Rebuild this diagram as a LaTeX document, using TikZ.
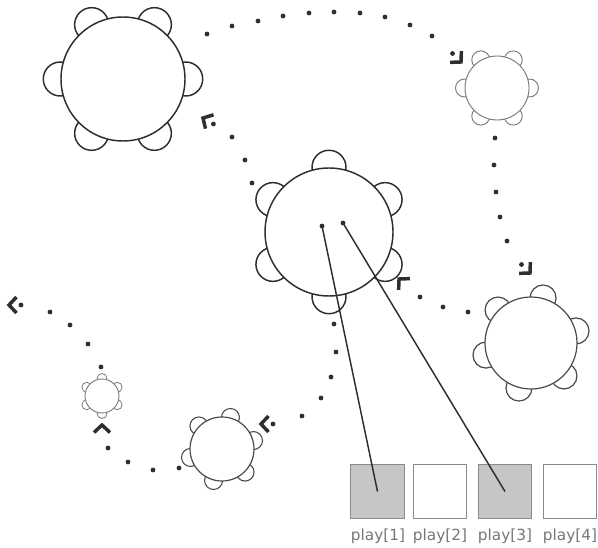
\documentclass[tikz,border=0pt]{standalone}
\usepackage{fontspec}
\newfontfamily\labfont{DejaVu Sans}
\usetikzlibrary{backgrounds}
\definecolor{ink}{HTML}{2E2E2E}
\definecolor{midink}{HTML}{4A4A4A}
\definecolor{lightink}{HTML}{7A7A7A}
\definecolor{boxgray}{HTML}{C6C6C6}
\definecolor{boxline}{HTML}{8A8A8A}
\definecolor{labgray}{HTML}{767676}
\newcommand\chairs[5]{% node, chair radius (px), offset angle, colour, line width
  \begin{pgfonlayer}{background}
    \foreach \a [evaluate=\a as \b using int(\a+#3)] in {0,60,...,300}
      {\draw[draw=#4, line width=#5, fill=white] (#1.\b) circle[radius=#2];}
  \end{pgfonlayer}}
\newcommand\pathdot[2]{\fill[ink] (#1,#2) circle[radius=2.4];}
\newcommand\routemark[4]{% x, y, direction, dot (1/0)
  \begin{scope}[shift={(#1,#2)},rotate=#3]
    \draw[ink, line width=2.6pt, line join=miter] (-7.5,-8) -- (0,0) -- (-7.5,8);
    \ifnum#4=1 \fill[ink] (-12,0) circle[radius=2.4];\fi
  \end{scope}}
\begin{document}
\begin{tikzpicture}[x=0.75pt,y=-0.75pt,
  tablebig/.style={circle, draw=ink, line width=1.1pt, fill=white, inner sep=0pt},
  tablemid/.style={circle, draw=midink, line width=0.9pt, fill=white, inner sep=0pt},
  tablelight/.style={circle, draw=lightink, line width=0.7pt, fill=white, inner sep=0pt},
  slot/.style={rectangle, draw=boxline, line width=0.8pt, minimum width=40pt, minimum height=40pt, inner sep=0pt},
  slotlab/.style={text=labgray, font=\labfont\fontsize{11.5}{13}\selectfont, inner sep=0pt},
  link/.style={draw=ink, line width=1.1pt}]
\useasboundingbox (0,0) rectangle (598,548);

% tables
\node[tablebig, minimum size=93pt] (t1) at (123,79) {};
\chairs{t1}{17}{0}{ink}{1.1pt}
\node[tablelight, minimum size=48pt] (t2) at (497,88) {};
\chairs{t2}{9}{0}{lightink}{0.7pt}
\node[tablebig, minimum size=96pt] (t3) at (329,232) {};
\chairs{t3}{17}{30}{ink}{1.1pt}
\node[tablemid, minimum size=69pt] (t4) at (531,343) {};
\chairs{t4}{13}{15}{midink}{0.9pt}
\node[tablelight, minimum size=25.5pt] (t5) at (102,396) {};
\chairs{t5}{5}{30}{lightink}{0.6pt}
\node[tablemid, minimum size=48pt] (t6) at (222,449) {};
\chairs{t6}{9}{15}{midink}{0.8pt}

% dotted route t1 -> t2
\foreach \x/\y in {207/34,232/26,258/21,283/16,309/13,334/12,360/13,385/17,410/25,432/36}
  {\pathdot{\x}{\y}}
\routemark{461}{62}{-45}{1}
% t2 -> t4
\foreach \x/\y in {495/138,494/165,496/192,500/217,507/241}
  {\pathdot{\x}{\y}}
\routemark{530}{273}{-45}{1}
% t4 -> t3
\foreach \x/\y in {468/312,443/307,420/297}
  {\pathdot{\x}{\y}}
\routemark{399}{279}{135}{0}
% t3 -> t1
\foreach \x/\y in {252/183,245/160,232/137}
  {\pathdot{\x}{\y}}
\routemark{203}{118}{150}{1}
% t3 -> t6
\foreach \x/\y in {334/324,336/352,331/377,321/398,302/416}
  {\pathdot{\x}{\y}}
\routemark{261}{424}{180}{1}
% t6 -> t5
\foreach \x/\y in {179/468,153/470,128/462,108/448}
  {\pathdot{\x}{\y}}
\routemark{102}{425}{90}{0}
% t5 -> out
\foreach \x/\y in {101/367,88/344,70/325,50/312}
  {\pathdot{\x}{\y}}
\routemark{9}{305}{180}{1}

% play slots
\node[slot, fill=boxgray] (p1) at (377.5,491.5) {};
\node[slot, fill=white]   (p2) at (440,491.5) {};
\node[slot, fill=boxgray] (p3) at (505,491.5) {};
\node[slot, fill=white]   (p4) at (570,491.5) {};
\node[slotlab] (l1) at (378,536) {play[1]};
\node[slotlab] (l2) at (440,536) {play[2]};
\node[slotlab] (l3) at (505,536) {play[3]};
\node[slotlab] (l4) at (570,536) {play[4]};

% pointers
\coordinate (s1) at (322,226);
\coordinate (s2) at (343,223);
\fill[ink] (s1) circle[radius=2.4];
\fill[ink] (s2) circle[radius=2.4];
\draw[link] (s1) -- (p1.center);
\draw[link] (s2) -- (p3.center);
\end{tikzpicture}
\end{document}
